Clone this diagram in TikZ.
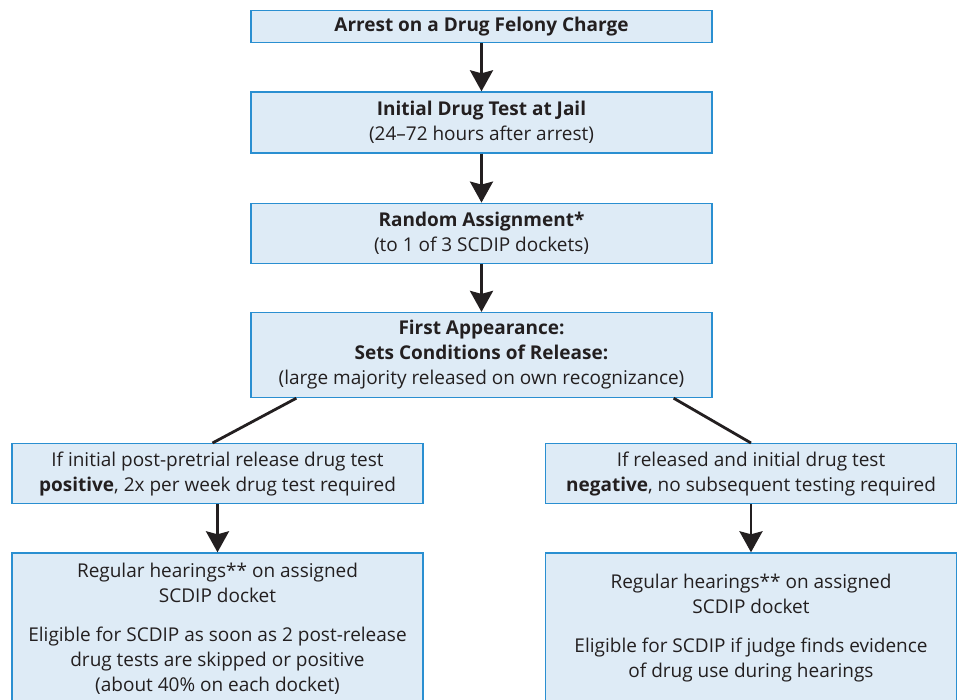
\documentclass[tikz,border=0pt]{standalone}
\usepackage{fontspec}
\setmainfont{Open Sans}
\usetikzlibrary{arrows.meta,positioning,calc}
\definecolor{boxfill}{HTML}{DEEBF6}
\definecolor{boxline}{HTML}{2A8FD1}
\definecolor{inktext}{HTML}{231F20}

\begin{document}
\begin{tikzpicture}[
  x=1pt, y=1pt,
  >={Stealth[length=21pt,width=23pt,inset=3pt]},
  node distance=48pt,
  stage/.style={draw=boxline, fill=boxfill, line width=1.3pt, align=center, text=inktext,
                minimum width=461pt, inner sep=0pt, font=\fontsize{19}{25}\selectfont},
  branch/.style={stage, minimum width=411pt},
  flow/.style={->, line width=2.8pt, draw=inktext},
  split/.style={line width=2.8pt, draw=inktext}
]
  \useasboundingbox (0,0) rectangle (961,-700);
  \clip (0,0) rectangle (961,-700);
  % main column
  \node[stage, minimum height=32pt, anchor=north] (arrest) at (481.5,-10)
    {\textbf{Arrest on a Drug Felony Charge}};
  \node[stage, minimum height=61pt, below=48pt of arrest] (jailtest)
    {\textbf{Initial Drug Test at Jail}\\(24--72 hours after arrest)};
  \node[stage, minimum height=60pt, below=49pt of jailtest] (assign)
    {\textbf{Random Assignment*}\\(to 1 of 3 SCDIP dockets)};
  \node[stage, minimum height=85pt, below=48pt of assign] (appear)
    {\textbf{First Appearance:}\\\textbf{Sets Conditions of Release:}\\(large majority released on own recognizance)};
  % two branches
  \node[branch, minimum height=60pt, anchor=north] (pos) at (217.5,-443)
    {If initial post-pretrial release drug test\\\textbf{positive}, 2x per week drug test required};
  \node[branch, minimum height=60pt, anchor=north] (neg) at (751,-443)
    {If released and initial drug test\\\textbf{negative}, no subsequent testing required};
  \node[branch, minimum height=151pt, below=48pt of pos] (poshear)
    {Regular hearings** on assigned\\SCDIP docket\\[14pt]
     Eligible for SCDIP as soon as 2 post-release\\drug tests are skipped or positive\\(about 40\% on each docket)};
  \node[branch, minimum height=151pt, below=48pt of neg] (neghear)
    {Regular hearings** on assigned\\SCDIP docket\\[14pt]
     Eligible for SCDIP if judge finds evidence\\of drug use during hearings};
  % connectors
  \draw[flow] (arrest) -- (jailtest);
  \draw[flow] (jailtest) -- (assign);
  \draw[flow] (assign) -- (appear);
  \draw[split] ([xshift=46pt]appear.south west) -- ([xshift=-5pt]pos.north);
  \draw[split] ([xshift=-39pt]appear.south east) -- (neg.north);
  \draw[flow] (pos) -- (poshear);
  \draw[flow] (neg) -- (neghear);
\end{tikzpicture}
\end{document}
